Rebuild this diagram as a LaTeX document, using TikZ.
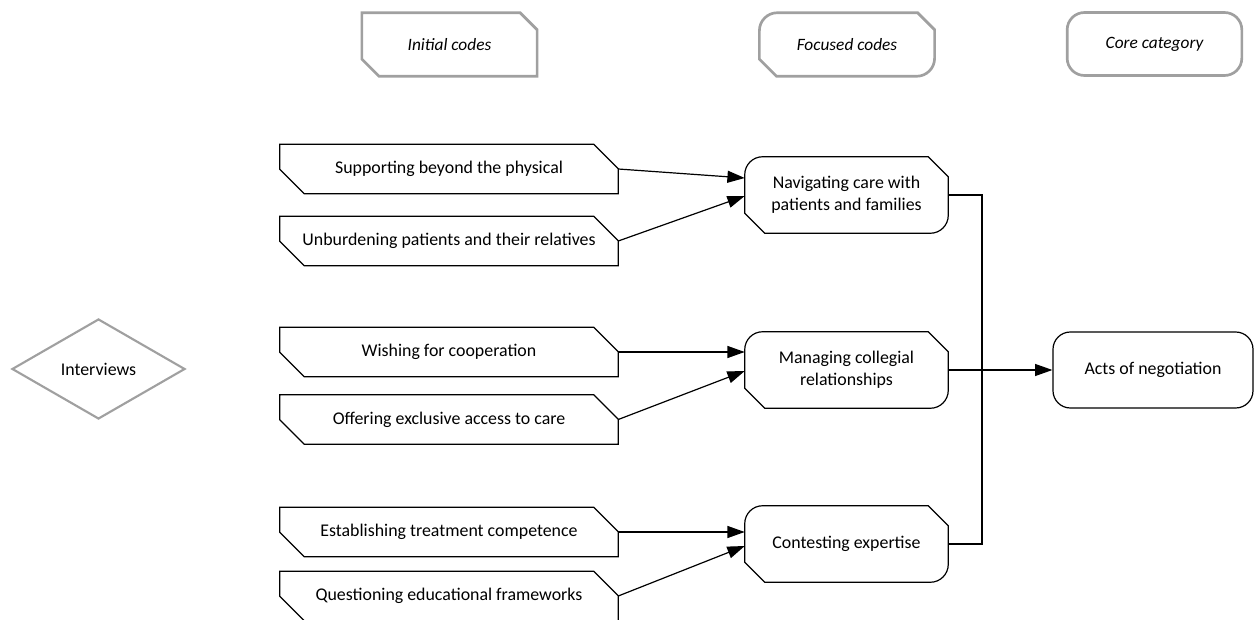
\documentclass[tikz,border=0pt]{standalone}
\usepackage{fontspec}
\setmainfont{Carlito}
\usetikzlibrary{arrows.meta,calc,shapes.geometric}

\begin{document}
\begin{tikzpicture}[x=0.75pt,y=0.75pt,yscale=-1,xscale=1,
  every node/.style={font=\fontsize{13.4}{16.3}\selectfont, align=center, inner sep=0pt},
  headline/.style={line width=2pt, draw={rgb, 255:red, 160; green, 160; blue, 160}},
  thinline/.style={line width=0.9pt, draw=black},
  cut box/.style 2 args={append after command={\pgfextra{\draw[#2] (\tikzlastnode.north west) -- ($(\tikzlastnode.north east)+(-#1,0)$) -- ($(\tikzlastnode.north east)+(0,#1)$) -- (\tikzlastnode.south east) -- ($(\tikzlastnode.south west)+(#1,0)$) -- ($(\tikzlastnode.south west)+(0,-#1)$) -- cycle;}}},
  round cut box/.style 2 args={append after command={\pgfextra{\draw[#2] ($(\tikzlastnode.north west)+(18,0)$) -- ($(\tikzlastnode.north east)+(-#1,0)$) -- ($(\tikzlastnode.north east)+(0,#1)$) -- ($(\tikzlastnode.south east)+(0,-18)$) .. controls ($(\tikzlastnode.south east)+(0,-8)$) and ($(\tikzlastnode.south east)+(-8,0)$) .. ($(\tikzlastnode.south east)+(-18,0)$) -- ($(\tikzlastnode.south west)+(#1,0)$) -- ($(\tikzlastnode.south west)+(0,-#1)$) -- ($(\tikzlastnode.north west)+(0,18)$) .. controls ($(\tikzlastnode.north west)+(0,8)$) and ($(\tikzlastnode.north west)+(8,0)$) .. ($(\tikzlastnode.north west)+(18,0)$) -- cycle;}}},
  initcode/.style={minimum width=253.5pt, minimum height=36.75pt, cut box={24.5}{thinline}},
  focuscode/.style={minimum width=152.25pt, minimum height=57pt, round cut box={20}{thinline}},
  headtext/.style={minimum width=131pt, minimum height=47.25pt, font=\fontsize{13}{16.3}\selectfont\itshape},
  arr/.style={thinline, -{Triangle[length=13pt,width=9pt]}}]
\useasboundingbox (0,0) rectangle (1254,620);

% Header Nodes
\node [headtext, cut box={17}{headline}] (hInit) at (449.5,44.5) {Initial codes};
\node [headtext, round cut box={17}{headline}] (hFocus) at (847,44.5) {Focused codes};
\node [headtext, headline, rounded corners=13pt] (hCore) at (1154.5,44) {Core category};

% Source Node
\node [diamond, headline, line width=1.6pt, minimum width=129.75pt, minimum height=75pt] (interviews) at (98.5,369) {Interviews};

% Initial Codes
\node [initcode] (i1) at (449,169) {Supporting beyond the physical};
\node [initcode] (i2) at (449,241) {Unburdening patients and their relatives};
\node [initcode] (i3) at (449,352) {Wishing for cooperation};
\node [initcode] (i4) at (449,419.5) {Offering exclusive access to care};
\node [initcode] (i5) at (449,532) {Establishing treatment competence};
\node [initcode] (i6) at (449,596) {Questioning educational frameworks};

% Focused Codes
\node [focuscode] (f1) at (846.5,195) {Navigating care with\\patients and families};
\node [focuscode] (f2) at (846.5,370) {Managing collegial\\relationships};
\node [focuscode] (f3) at (846.5,544) {Contesting expertise};

% Core Category
\node [thinline, draw, rounded corners=13pt, minimum width=150pt, minimum height=57pt] (acts) at (1153,370) {Acts of negotiation};

% Straight Lines
\draw [arr] (i1.east) -- ($(f1.west)+(0,-17)$);
\draw [arr] (i2.east) -- ($(f1.west)+(0,1)$);
\draw [arr] (i3.east) -- ($(f2.west)+(0,-18)$);
\draw [arr] (i4.east) -- ($(f2.west)+(0,1)$);
\draw [arr] (i5.east) -- ($(f3.west)+(0,-12)$);
\draw [arr] (i6.east) -- ($(f3.west)+(0,2)$);

\coordinate (jn) at (982,370);
\draw [thinline] (f1.east) -| (jn);
\draw [thinline] (f3.east) -| (jn);
\draw [arr] (f2.east) -- (acts.west);

\end{tikzpicture}
\end{document}
